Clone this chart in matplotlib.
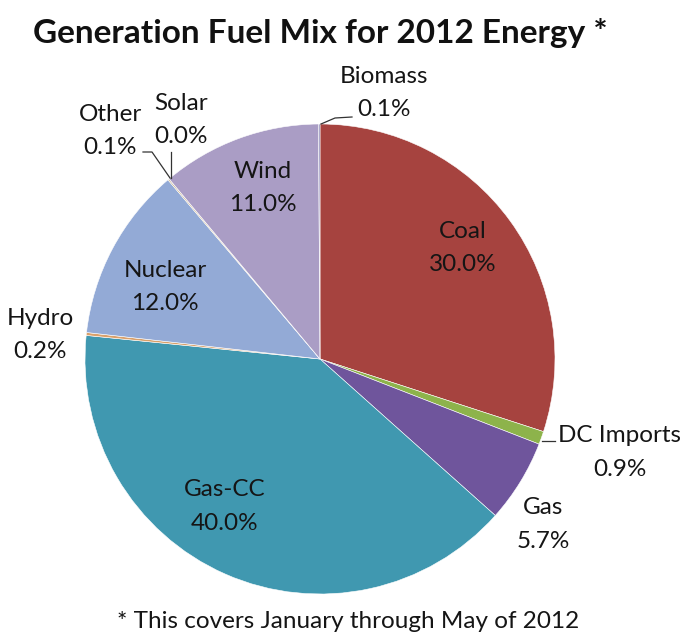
import matplotlib.pyplot as plt

plt.rcParams['font.family'] = ['Lato', 'DejaVu Sans']

fuels = ['Coal', 'DC Imports', 'Gas', 'Gas-CC', 'Hydro', 'Nuclear',
         'Other', 'Solar', 'Wind', 'Biomass']
shares = [30.0, 0.9, 5.7, 40.0, 0.2, 12.0, 0.1, 0.0, 11.0, 0.1]
colors = ['#A6433F', '#8DB34B', '#6F559C', '#4098B0', '#D9A06A', '#93AAD6',
          '#C9B38F', '#B0B0B0', '#AA9DC5', '#8E8BB8']

fig = plt.figure(figsize=(6.88, 6.44), dpi=100)
ax = fig.add_axes([0, 0, 1, 1])

# pie drawn in pixel-like coords (y up)
cx, cy, R = 320, 644 - 359, 235
ax.pie(shares, colors=colors, startangle=90, counterclock=False,
       center=(cx, cy), radius=R, frame=True,
       wedgeprops=dict(edgecolor='white', linewidth=0.4))
ax.set_xlim(0, 688)
ax.set_ylim(0, 644)
ax.set_aspect('equal')
ax.axis('off')

txt = '#151515'
fs = 17.5

def lab(x, y, name, val):
    ax.text(x, 644 - y, name, ha='center', va='center', fontsize=fs, color=txt)
    ax.text(x, 644 - y - 33, f'{val:.1f}%', ha='center', va='center', fontsize=fs, color=txt)

lab(463, 231, 'Coal', shares[0])
lab(620, 436, 'DC Imports', shares[1])
lab(543, 508, 'Gas', shares[2])
lab(225, 490, 'Gas-CC', shares[3])
lab(40, 318, 'Hydro', shares[4])
lab(165, 270, 'Nuclear', shares[5])
lab(110, 114, 'Other', shares[6])
lab(181, 103, 'Solar', shares[7])
lab(263, 171, 'Wind', shares[8])
lab(384, 76, 'Biomass', shares[9])

# leader lines
lc = dict(color='#333333', linewidth=0.9)
ax.plot([321, 335, 352], [644 - 124, 644 - 118, 644 - 117], **lc)
ax.plot([143, 152, 170], [644 - 152, 644 - 152, 644 - 178], **lc)
ax.plot([171, 171], [644 - 152, 644 - 178], **lc)
ax.plot([542, 555], [644 - 441, 644 - 441], **lc)

ax.text(320, 644 - 33, 'Generation Fuel Mix for 2012 Energy *', ha='center', va='center',
        fontsize=24, fontweight='bold', color='#111111')
ax.text(348, 644 - 621, '* This covers January through May of 2012', ha='center', va='center',
        fontsize=17.5, color=txt)

fig.savefig('out.png', dpi=100)
